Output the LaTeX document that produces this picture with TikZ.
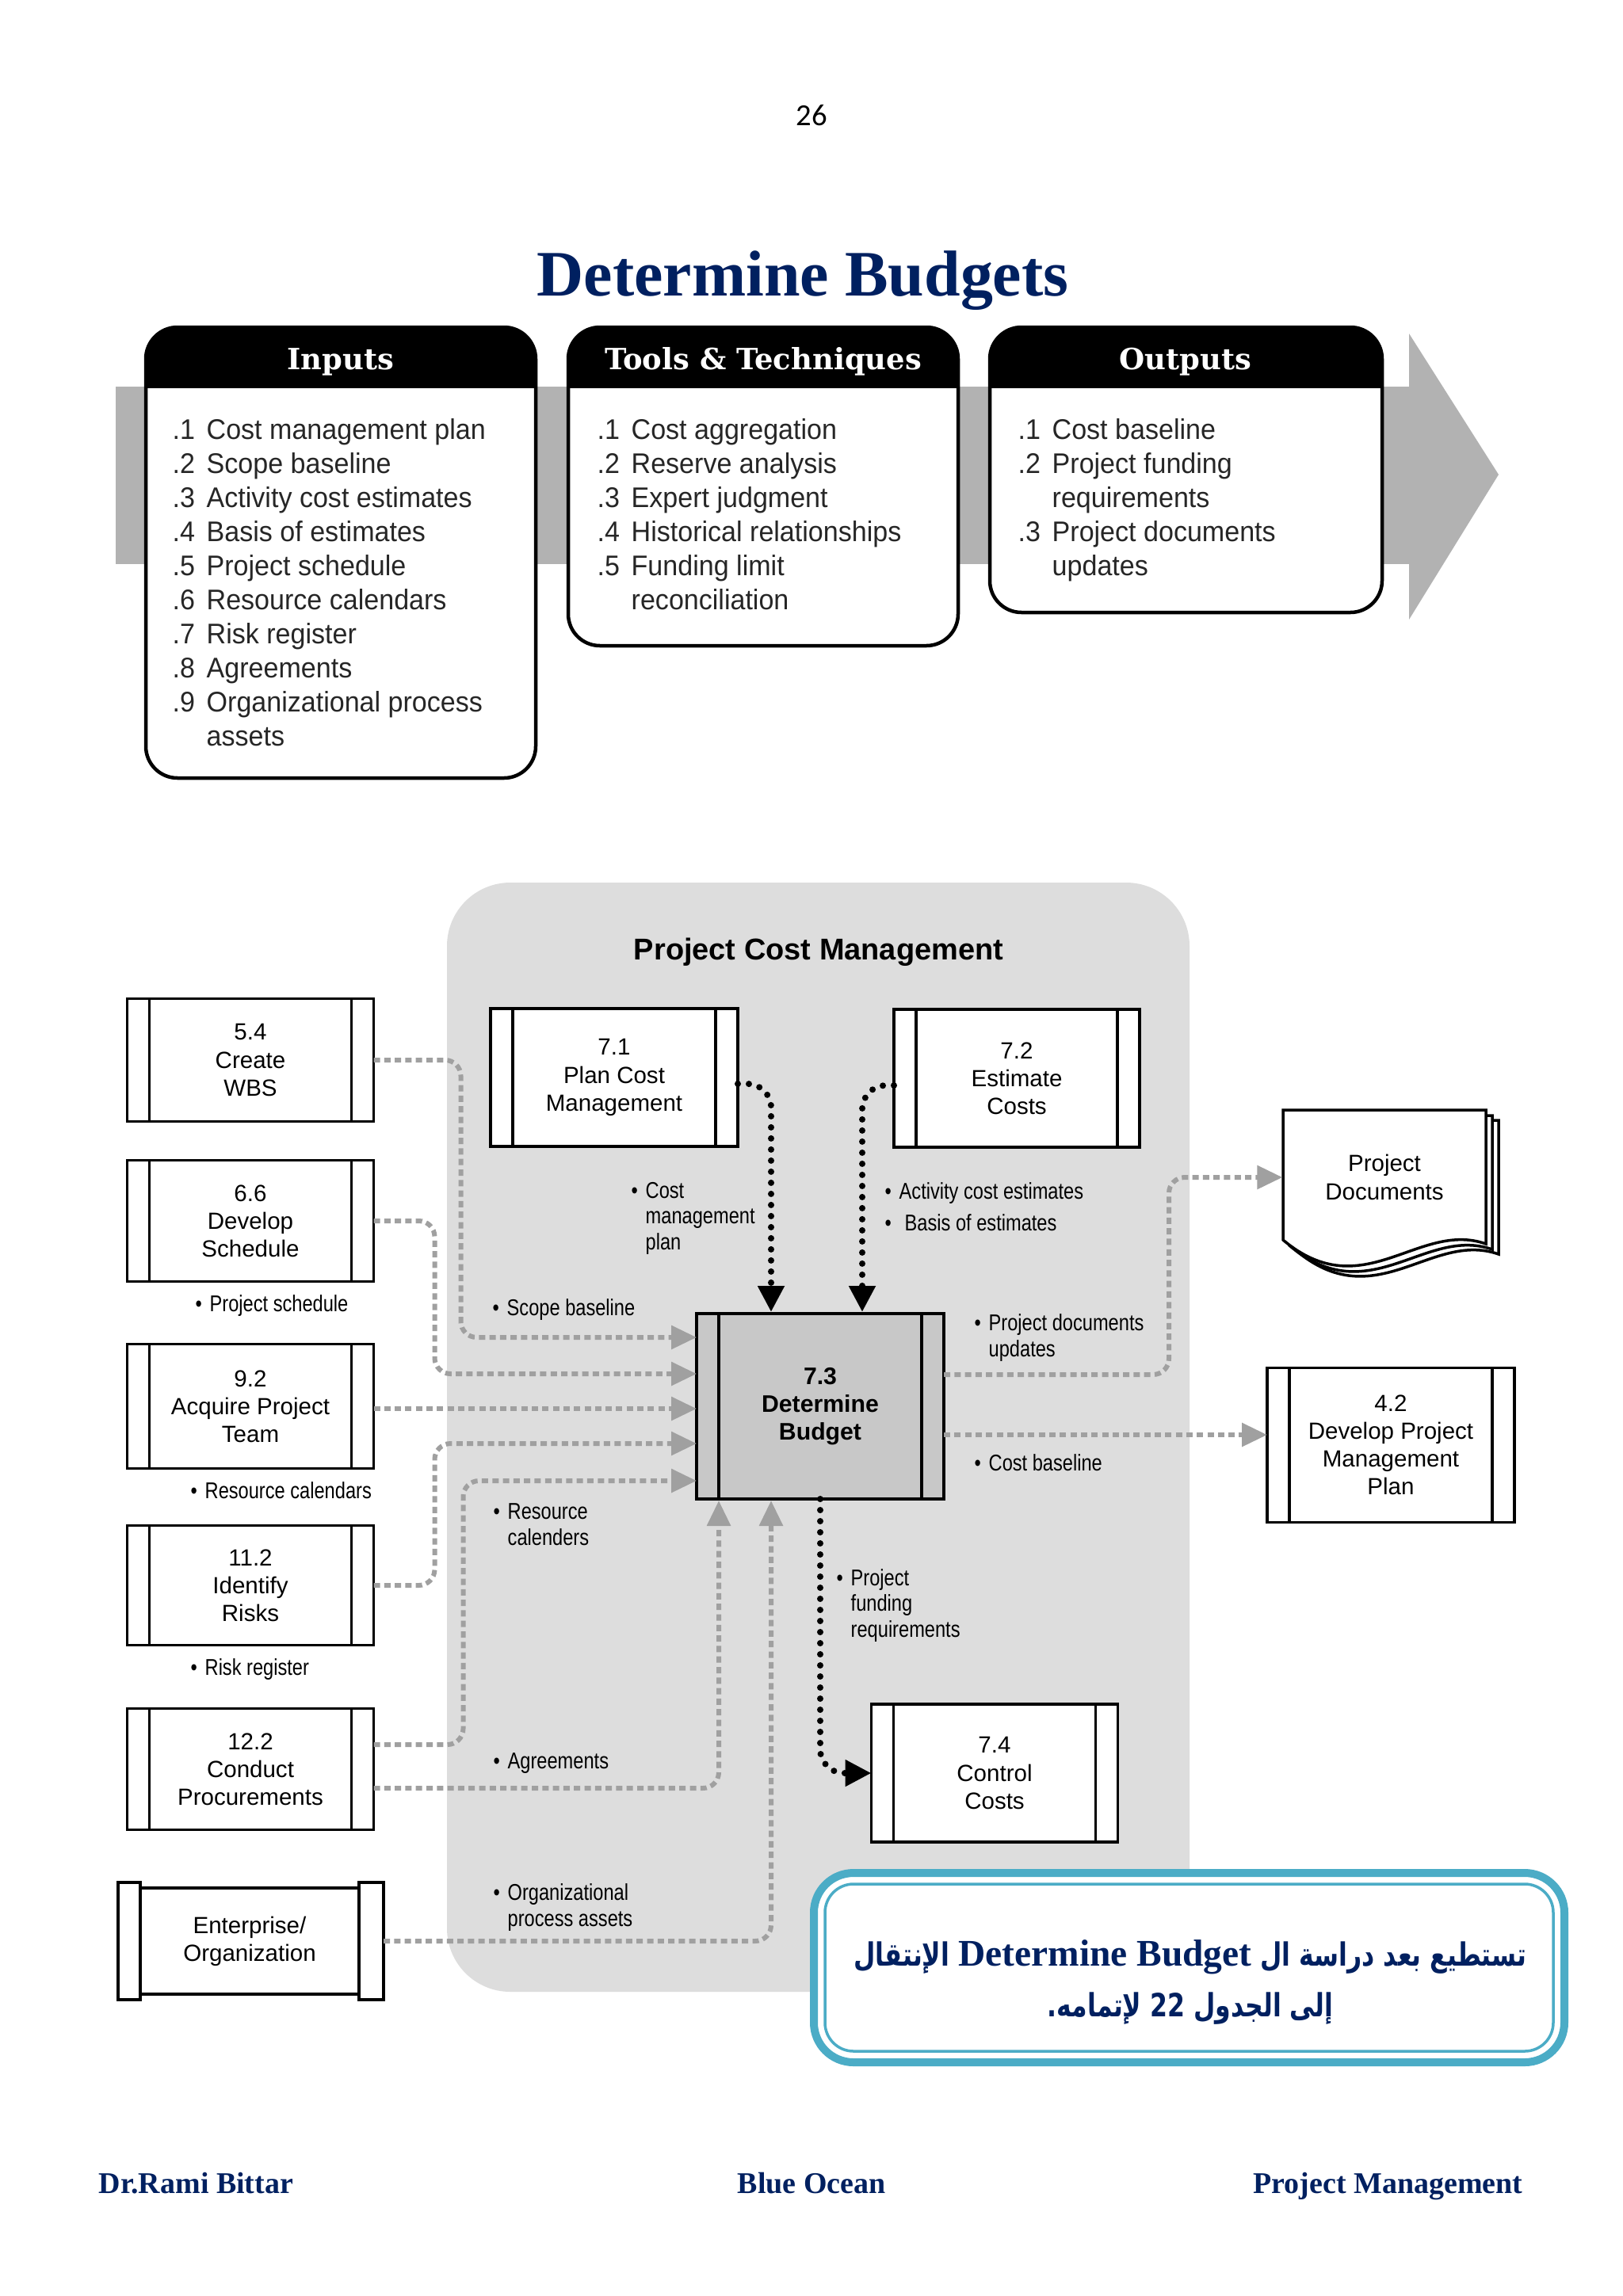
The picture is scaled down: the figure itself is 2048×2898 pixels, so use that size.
\documentclass[tikz,border=0pt]{standalone}
\usepackage{fontspec}
\setmainfont{Liberation Serif}
\newfontfamily\ittofont[FakeStretch=0.95]{Liberation Sans}
\newfontfamily\boxfont{Liberation Sans}
\newfontfamily\lblfont[FakeStretch=0.82]{Liberation Sans}
\newfontfamily\headfont{DejaVu Serif}
\newfontfamily\pagefont{Carlito}
\newfontfamily\arabicfont[Script=Arabic,FakeStretch=0.78]{DejaVu Sans}
\TeXXeTstate=1
\usetikzlibrary{arrows.meta,calc}
\definecolor{navy}{RGB}{0,32,96}
\definecolor{bandgray}{RGB}{178,178,178}
\definecolor{regiongray}{RGB}{221,221,221}
\definecolor{boxgray}{RGB}{200,200,200}
\definecolor{lnkgray}{RGB}{160,160,160}
\definecolor{frameblue}{RGB}{75,172,198}
\newcommand\lblbul{\makebox[1.8mm][l]{\textbullet}}
\newcommand\lblind{\hspace*{1.8mm}}
\newcommand\ittobox[4]{%
  \begin{scope}
    \clip[rounded corners=4mm] (#1,#2) rectangle (#3,#4);
    \fill[white] (#1,#2) rectangle (#3,#4);
    \fill[black] (#1,#2) rectangle (#3,490);
  \end{scope}
  \draw[line width=0.45mm, rounded corners=4mm] (#1,#2) rectangle (#3,#4);}
\newcommand\procbars[2]{%
  \draw[line width=0.35mm] ([xshift=#2]#1.north west) -- ([xshift=#2]#1.south west);
  \draw[line width=0.35mm] ([xshift=-#2]#1.north east) -- ([xshift=-#2]#1.south east);}
\begin{document}
\begin{tikzpicture}[x=0.1mm,y=-0.1mm,
  itto/.style={font=\ittofont\fontsize{10.2}{12}\selectfont, anchor=base west, inner sep=0, text=black!85},
  head/.style={font=\headfont\bfseries\fontsize{10.5}{12}\selectfont, text=white, anchor=base, inner sep=0},
  proc/.style={draw, line width=0.35mm, fill=white, inner sep=0, outer sep=0, align=center,
    font=\boxfont\fontsize{8.4}{10}\selectfont, minimum width=31.1mm},
  lbl/.style={font=\lblfont\fontsize{8.2}{9.25}\selectfont, anchor=base west, align=left, inner sep=0},
  gline/.style={draw=lnkgray, line width=0.6mm, dash pattern=on 0.8mm off 0.53mm, rounded corners=2mm,
    -{Triangle[length=3.2mm,width=2.9mm]}},
  bline/.style={draw=black, line width=0.8mm, line cap=round, dash pattern=on 0mm off 1.4mm, rounded corners=3mm,
    -{Triangle[length=3.3mm,width=3.2mm]}},
  foot/.style={font=\bfseries\fontsize{10.8}{13}\selectfont, text=navy, inner sep=0},
  arab/.style={anchor=base, inner sep=0, text=navy, font=\arabicfont\bfseries\fontsize{11.5}{14}\selectfont}
]
\useasboundingbox (0,0) rectangle (2048,2898);
\fill[white] (0,0) rectangle (2048,2898);

% page number and title
\node[font=\pagefont\fontsize{11}{13}\selectfont, anchor=base, inner sep=0] (pg) at (1024,158) {26};
\node[font=\bfseries\fontsize{23.3}{28}\selectfont, text=navy, anchor=base, inner sep=0] (title) at (1013,373) {Determine Budgets};

% ITTO band and arrow
\fill[bandgray] (146,488) rectangle (1778,712);
\fill[bandgray] (1778,421) -- (1891,599) -- (1778,782) -- cycle;

\ittobox{184}{413}{676}{982}
\ittobox{717}{413}{1209}{815}
\ittobox{1249}{413}{1744}{773}

\node[head] (hin) at (430,466) {Inputs};
\node[head] (htt) at (963,466) {Tools \& Techniques};
\node[head] (hout) at (1496,466) {Outputs};

\foreach \nm/\tx [count=\i from 0] in {.1/Cost management plan,.2/Scope baseline,.3/Activity cost estimates,.4/Basis of estimates,.5/Project schedule,.6/Resource calendars,.7/Risk register,.8/Agreements,.9/Organizational process,/assets}
  \node[itto] (inp\i) at (217,{554+43*\i}) {\makebox[4.3mm][l]{\nm}\tx};
\foreach \nm/\tx [count=\i from 0] in {.1/Cost aggregation,.2/Reserve analysis,.3/Expert judgment,.4/Historical relationships,.5/Funding limit,/reconciliation}
  \node[itto] (tt\i) at (753,{554+43*\i}) {\makebox[4.3mm][l]{\nm}\tx};
\foreach \nm/\tx [count=\i from 0] in {.1/Cost baseline,.2/Project funding,/requirements,.3/Project documents,/updates}
  \node[itto] (out\i) at (1284,{554+43*\i}) {\makebox[4.3mm][l]{\nm}\tx};

% Project Cost Management region
\fill[regiongray, rounded corners=8mm] (564,1114) rectangle (1501,2514);
\node[font=\boxfont\bfseries\fontsize{10.8}{13}\selectfont, anchor=base, inner sep=0] (pcm) at (1033,1211) {Project Cost Management};

% process boxes
\node[proc, minimum height=15.5mm] (b54) at (316,1338) {5.4\\Create\\WBS};
\node[proc, minimum height=15.3mm] (b66) at (316,1541) {6.6\\Develop\\Schedule};
\node[proc, minimum height=15.7mm] (b92) at (316,1775) {9.2\\Acquire Project\\Team};
\node[proc, minimum height=15.1mm] (b112) at (316,2001) {11.2\\Identify\\Risks};
\node[proc, minimum height=15.3mm] (b122) at (316,2233) {12.2\\Conduct\\Procurements};
\node[proc, minimum width=31.2mm, minimum height=17.4mm] (b71) at (775,1360) {7.1\\Plan Cost\\Management};
\node[proc, minimum width=31mm, minimum height=17.4mm] (b72) at (1283,1361) {7.2\\Estimate\\Costs};
\node[proc, fill=boxgray, minimum width=31.2mm, minimum height=23.4mm, font=\boxfont\bfseries\fontsize{8.6}{10}\selectfont] (b73) at (1035,1775) {7.3\\Determine\\Budget};
\node[proc, minimum width=31.1mm, minimum height=17.4mm] (b74) at (1255,2238) {7.4\\Control\\Costs};
\node[proc, minimum width=31.2mm, minimum height=19.5mm] (b42) at (1755,1824) {4.2\\Develop Project\\Management\\Plan};
\foreach \b in {b54,b66,b92,b112,b122,b71,b72,b73,b74,b42} {\procbars{\b}{2.8mm}}

% enterprise / organization
\draw[line width=0.35mm, fill=white] (149,2376) rectangle (177,2524);
\draw[line width=0.35mm, fill=white] (453,2376) rectangle (484,2524);
\node[proc, minimum width=27.6mm, minimum height=13.4mm] (ent) at (315,2450) {Enterprise/\\Organization};

% project documents
\foreach \dx/\dy in {16/13,8/7,0/0}
  \filldraw[fill=white, line width=0.35mm, shift={(\dx,\dy)}] (1619,1401) -- (1875,1401) -- (1875,1570)
    .. controls (1790,1540) and (1720,1650) .. (1619,1565) -- cycle;
\node[inner sep=0, minimum width=25.6mm, minimum height=17.1mm, align=center,
  font=\boxfont\fontsize{8.4}{10}\selectfont] (pd) at (1747,1486) {Project\\Documents};

% connection points on 7.3
\coordinate (in1) at ([yshift=8.7mm]b73.west);
\coordinate (in2) at ([yshift=4.1mm]b73.west);
\coordinate (in3) at ([yshift=-0.3mm]b73.west);
\coordinate (in4) at ([yshift=-4.7mm]b73.west);
\coordinate (in5) at ([yshift=-9.4mm]b73.west);
\coordinate (up1) at ([xshift=-12.8mm,yshift=-0.2mm]b73.south);
\coordinate (up2) at ([xshift=-6.2mm,yshift=-0.2mm]b73.south);
\coordinate (dn1) at ([xshift=-6.2mm,yshift=0.2mm]b73.north);
\coordinate (dn2) at ([xshift=5.3mm,yshift=0.2mm]b73.north);
\coordinate (o1) at ([yshift=4mm]b73.east);
\coordinate (o2) at ([yshift=-3.6mm]b73.east);
\coordinate (s122a) at ([yshift=3.1mm]b122.east);
\coordinate (s122b) at ([yshift=-2.4mm]b122.east);
\coordinate (sent) at ([xshift=3.1mm]ent.east);
\coordinate (s71) at ([yshift=-0.8mm]b71.east);
\coordinate (s72) at ([yshift=-0.9mm]b72.west);

% gray input connectors
\draw[gline] (b54.east) -- ++(11mm,0) |- (in1);
\draw[gline] (b66.east) -- ++(7.7mm,0) |- (in2);
\draw[gline] (b92.east |- in3) -- (in3);
\draw[gline] (b112.east) -- ++(7.7mm,0) |- (in4);
\draw[gline] (s122a) -- ++(11.3mm,0) |- (in5);
\draw[gline] (s122b) -| (up1);
\draw[gline] (sent) -| (up2);
% black connectors
\draw[bline] (s71) -| (dn1);
\draw[bline] (s72) -| (dn2);
\draw[bline] (b73.south) |- (b74.west);
% gray outputs
\draw[gline] (o1) -- ++(28.4mm,0) |- (pd.west);
\draw[gline] (o2) -- (o2 -| b42.west);

% labels (base anchor = baseline of the last line)
\node[lbl] (lcmp) at (796,1577) {\lblbul Cost\\\lblind management\\\lblind plan};
\node[lbl] (lace) at (1116,1513) {\lblbul Activity cost estimates};
\node[lbl] (lboe) at (1116,1553) {\lblbul\hspace{0.7mm}Basis of estimates};
\node[lbl] (lsb) at (621,1660) {\lblbul Scope baseline};
\node[lbl] (lps) at (246,1655) {\lblbul Project schedule};
\node[lbl] (lrc) at (240,1891) {\lblbul Resource calendars};
\node[lbl] (lrr) at (240,2114) {\lblbul Risk register};
\node[lbl] (lrc2) at (622,1950) {\lblbul Resource\\\lblind calenders};
\node[lbl] (lagr) at (622,2232) {\lblbul Agreements};
\node[lbl] (lopa) at (622,2431) {\lblbul Organizational\\\lblind process assets};
\node[lbl] (lpdu) at (1229,1712) {\lblbul Project documents\\\lblind updates};
\node[lbl] (lcb) at (1229,1856) {\lblbul Cost baseline};
\node[lbl] (lpfr) at (1055,2066) {\lblbul Project\\\lblind funding\\\lblind requirements};

% Arabic note box
\filldraw[draw=frameblue, fill=white, line width=1mm, rounded corners=5mm] (1027,2364) rectangle (1974,2603);
\draw[draw=frameblue, line width=0.35mm, rounded corners=3.6mm] (1041,2378) rectangle (1960,2589);
\node[arab] (ar1) at (1502,2481)
  {\beginR تستطيع بعد دراسة ال \beginL{\rmfamily\bfseries\fontsize{13.5}{16}\selectfont Determine Budget}\endL{} الإنتقال\endR};
\node[arab] (ar2) at (1502,2545)
  {\beginR إلى الجدول 22 لإتمامه.\endR};

% footer
\node[foot, anchor=base west] (f1) at (124,2768) {Dr.Rami Bittar};
\node[foot, anchor=base] (f2) at (1024,2768) {Blue Ocean};
\node[foot, anchor=base east] (f3) at (1922,2768) {Project Management};
\end{tikzpicture}
\end{document}
